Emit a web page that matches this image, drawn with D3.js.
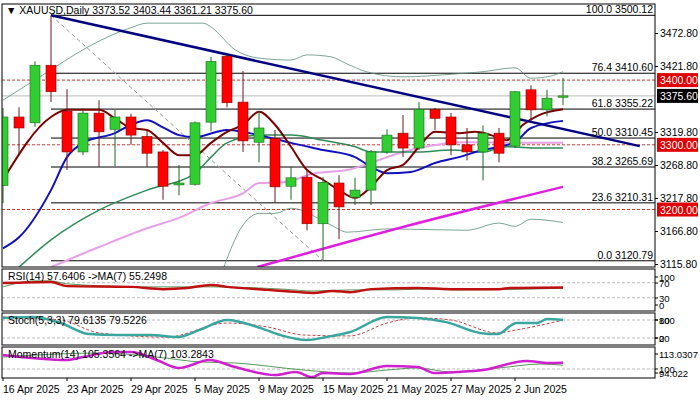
<!DOCTYPE html>
<html><head><meta charset="utf-8">
<script src="https://cdn.jsdelivr.net/npm/d3@7"></script>
<style>body{margin:0;background:#fff}text{font-family:"Liberation Sans",Arial,sans-serif;font-size:10.5px}</style>
</head><body><div id="chart"></div>
<script>
// OHLC per bar, bar index = position
const opens  = [3237,3343,3334,3423,3352,3289,3349,3324,3343,3313,3289,3238,3239,3335,3437,3366,3304,3310,3236,3250,3178,3241,3219,3230,3289,3318,3295,3355,3343,3300,3289,3318,3298,3385,3354,3373.52];
const highs  = [3357,3358,3429,3500.12,3386,3354,3369,3354,3348,3323,3292,3269,3336,3436,3439,3414,3352,3323,3266,3261,3250,3253,3249,3292,3324,3346,3366,3357,3349,3326,3330,3326,3383,3392,3385,3403.44];
const lows   = [3210,3284,3328,3366,3261,3284,3266,3267,3300,3266,3215,3222,3237,3321,3358,3289,3273,3210,3215,3168,3120.79,3154,3207,3207,3286,3281,3292,3323,3284,3276,3245,3273,3295,3335,3344,3361.21];
const closes = [3343,3326,3423,3382,3289,3349,3320,3343,3315,3287,3236,3241,3334,3429,3365,3306,3326,3235,3249,3178,3242,3204,3230,3289,3315,3295,3355,3341,3300,3289,3318,3287,3382,3354,3372,3375.60];

const dateTicks = [[0,'16 Apr 2025'],[4,'23 Apr 2025'],[8,'29 Apr 2025'],[12,'5 May 2025'],[16,'9 May 2025'],[20,'15 May 2025'],[24,'21 May 2025'],[28,'27 May 2025'],[32,'2 Jun 2025']];
const priceTicks = [3472.80,3421.80,3319.80,3268.80,3217.80,3166.80,3115.80];

// moving averages: [bar, price]
const maFast = [[0,3246],[3,3343],[4,3354],[6,3354],[7,3341],[8,3326],[9,3323],[10,3303],[11,3284],[12,3284],[13,3303],[14,3320],[15,3331],[16,3351],[17,3331],[18,3297],[19,3261],[20,3246],[21,3230],[22,3218],[23,3235],[24,3261],[25,3269],[26,3297],[27,3320],[28.5,3318],[29.5,3320],[30.5,3315],[31.5,3307],[32.5,3331],[33.5,3346],[35,3355]];
const maBlue = [[0,3140],[1,3157],[3,3230],[4,3281],[5,3303],[7,3318],[8,3331],[9,3338],[10,3327],[11,3315],[12,3312],[14,3323],[15,3320],[16,3315],[18,3303],[20,3292],[22,3281],[23,3266],[24,3256],[25.5,3258],[27,3272],[28.5,3281],[30,3292],[31,3297],[32,3304],[33,3326],[35,3337]];
const maGreen = [[1,3111],[3,3153],[6,3199],[9,3230],[12,3256],[13,3281],[14,3303],[16,3315],[18,3315],[20,3307],[22,3297],[23,3289],[26,3289],[28,3292],[30,3289],[31.5,3297],[33.5,3295],[35,3295]];
const maPink = [[3,3111],[6,3142],[9,3171],[11,3187],[13,3210],[15,3225],[16,3241],[17.5,3242],[19.5,3256],[21.5,3261],[23,3272],[24,3281],[26,3295],[29,3304],[32,3303],[35,3303]];
const maSlow = [[15.9,3111],[25,3173],[35,3235]];
const bandUp = [[0,3369],[3,3416],[5,3447],[8,3481],[9,3488],[12.5,3488],[13,3482],[14.5,3447],[16,3434],[18,3431],[19,3439],[20.5,3436],[21.5,3425],[22.7,3413],[25,3405],[28,3409],[30,3413],[32,3419],[33,3403],[34.2,3406],[35,3413]];
const bandLow = [[13.5,3090],[15,3176],[16,3194],[17,3194],[18,3202],[20.5,3176],[21.5,3165],[24,3170],[29,3168],[31,3179],[32,3174],[33,3185],[35,3180]];
const trend = [[3,3500.12],[39.8,3298]];
const fibDiag = [[3,3500.12],[20,3120.79]];
const fibLevels = [[100.0,3500.12],[76.4,3410.60],[61.8,3355.22],[50.0,3310.45],[38.2,3265.69],[23.6,3210.31],[0.0,3120.79]];
const redLevels = [3400,3300,3200];
const lastPrice = 3375.60;

const rsi = [[0,69],[3,72],[4,61],[8,59],[10,53],[11.5,56],[13,64],[14,59],[16.5,51],[18.5,45],[19.4,43],[20.6,48],[21.7,45],[23,53],[25.9,56],[28,53],[31,53],[31.7,56],[35,57.64]];
const rsiMa = [[0,59],[2,75],[3,75],[4,67],[9,59],[11.5,59],[13,59],[17.5,53],[19.4,48],[21.7,51],[24.5,51],[26,53],[28.5,51],[35,55.25]];
const stoch = [[0,87],[1.9,90],[3.6,70],[5.4,33],[7.1,30],[9.2,30],[10.9,23],[12.3,47],[14,80],[16.1,53],[17.5,27],[19,13],[20.2,23],[21.7,40],[24,90],[25.9,87],[27.7,73],[29.8,37],[30.9,33],[32.1,70],[33.4,70],[34,83],[35,79.61]];
const stochSig = [[0,90],[3.6,80],[6,37],[10.2,23],[14,70],[16.5,57],[18.8,30],[21.7,27],[24,70],[25.9,87],[28,80],[30.9,37],[32.1,47],[35,79.52]];
const mom = [[0,112.2],[4,107.8],[5,110.4],[6.9,114.8],[8,114.8],[9.6,107.8],[11,100.9],[12.9,107.8],[14.5,101.7],[17,94.8],[18.3,97.4],[19.3,93.0],[20,96.5],[21.7,95.7],[24,102.6],[25.9,101.7],[27,96.5],[28.5,97.4],[30,99.1],[32.7,107.0],[34.1,105.2],[35,105.36]];
const momMa = [[0,110.4],[6,113.9],[9.6,110.4],[12.3,106.1],[14.5,105.2],[18.8,99.1],[21.7,96.5],[24,99.1],[25.9,100.9],[28,97.4],[31,100.9],[33.6,104.3],[35,103.28]];

const W = 700, H = 400, L = 2, R = 655;
const svg = d3.select('#chart').append('svg').attr('width', W).attr('height', H);
const x = d3.scaleLinear().domain([0, 35]).range([3, 563]);
const y = d3.scaleLinear().domain([3115.8, 3472.8]).range([264, 33]);

const panels = [[4, 267], [269, 311], [313, 345], [347, 378]];
panels.forEach((p, i) => {
  svg.append('clipPath').attr('id', 'c' + i).append('rect')
    .attr('x', L).attr('y', p[0]).attr('width', R - L).attr('height', p[1] - p[0]);
});
const main = svg.append('g').attr('clip-path', 'url(#c0)');

// horizontal levels
redLevels.forEach(v => main.append('line').attr('x1', L).attr('x2', R).attr('y1', y(v)).attr('y2', y(v))
  .attr('stroke', '#c00').attr('stroke-dasharray', '3,2').attr('stroke-width', 0.8));
main.append('line').attr('x1', L).attr('x2', R).attr('y1', y(lastPrice)).attr('y2', y(lastPrice)).attr('stroke', '#bbb');
fibLevels.forEach(f => {
  main.append('line').attr('x1', x(3)).attr('x2', R).attr('y1', y(f[1])).attr('y2', y(f[1])).attr('stroke', '#000');
  svg.append('text').attr('x', 653).attr('y', y(f[1]) - 2).attr('text-anchor', 'end').text(f[0].toFixed(1) + ' ' + f[1].toFixed(2));
});

const line = (sx, sy) => d3.line().x(d => sx(d[0])).y(d => sy(d[1]));
main.append('path').datum(fibDiag).attr('d', line(x, y)).attr('fill', 'none').attr('stroke', '#999').attr('stroke-dasharray', '4,3');
[[bandUp, '#5a8f7a', 0.8], [bandLow, '#5a8f7a', 0.8], [maSlow, '#e020e0', 2.5], [maPink, '#e8a0e8', 2], [maGreen, '#2e8b57', 1.5], [maBlue, '#1010c0', 2], [maFast, '#7a0000', 2]]
  .forEach(s => main.append('path').datum(s[0]).attr('d', line(x, y).curve(d3.curveMonotoneX)).attr('fill', 'none').attr('stroke', s[1]).attr('stroke-width', s[2]));
main.append('path').datum(trend).attr('d', line(x, y)).attr('stroke', '#000080').attr('stroke-width', 2.5);

// candles
const bars = d3.range(opens.length);
main.selectAll('.wick').data(bars).enter().append('line')
  .attr('x1', i => x(i)).attr('x2', i => x(i)).attr('y1', i => y(highs[i])).attr('y2', i => y(lows[i]))
  .attr('stroke', i => closes[i] >= opens[i] ? '#1a6a1a' : '#6a1a1a');
main.selectAll('.body').data(bars).enter().append('rect')
  .attr('x', i => x(i) - 5).attr('width', 10)
  .attr('y', i => y(Math.max(opens[i], closes[i])))
  .attr('height', i => Math.max(1, Math.abs(y(opens[i]) - y(closes[i]))))
  .attr('fill', i => closes[i] >= opens[i] ? '#32cd32' : '#ff0000')
  .attr('stroke', i => closes[i] >= opens[i] ? '#1a6a1a' : '#8b0000').attr('stroke-width', 0.6);

// right axis
const ax = svg.append('g').attr('transform', `translate(${R},0)`)
  .call(d3.axisRight(y).tickValues(priceTicks).tickSize(3).tickFormat(d3.format('.2f')));
ax.select('.domain').remove();
ax.selectAll('text').attr('x', 5).style('font-size', '10.5px').style('font-family', 'Liberation Sans');
redLevels.concat([lastPrice]).forEach(v => {
  const g = svg.append('g').attr('transform', `translate(${R + 2},${y(v)})`);
  g.append('rect').attr('x', 0).attr('y', -7).attr('width', 41).attr('height', 14).attr('fill', v === lastPrice ? '#000' : '#e00000');
  g.append('text').attr('x', 3).attr('y', 4).attr('fill', '#fff').text(v.toFixed(2));
});

// indicator panels
function panel(idx, dom, rng, series, levels, labels, title) {
  const py = d3.scaleLinear().domain(dom).range(rng);
  const g = svg.append('g').attr('clip-path', `url(#c${idx})`);
  levels.forEach(v => g.append('line').attr('x1', L).attr('x2', R).attr('y1', py(v)).attr('y2', py(v))
    .attr('stroke', '#bbb').attr('stroke-dasharray', '3,2'));
  series.forEach(s => g.append('path').datum(s[0]).attr('d', line(x, py).curve(d3.curveMonotoneX))
    .attr('fill', 'none').attr('stroke', s[1]).attr('stroke-width', s[2]).attr('stroke-dasharray', s[3] || null));
  labels.forEach(l => {
    svg.append('line').attr('x1', R).attr('x2', R + 3).attr('y1', l[1]).attr('y2', l[1]).attr('stroke', '#000');
    svg.append('text').attr('x', R + 4).attr('y', l[1] + 4).style('font-size', '9.5px').text(l[0]);
  });
  svg.append('text').attr('x', 8).attr('y', panels[idx][0] + 11).text(title);
}
panel(1, [0, 100], [309, 271.5], [[rsiMa, '#2e7d2e', 0.8], [rsi, '#c01010', 2.5]], [70, 30],
  [['100', 277], ['70', 283], ['30', 298], ['0', 305]], 'RSI(14) 57.6406  ->MA(7) 55.2498');
panel(2, [0, 100], [344, 314], [[stochSig, '#c01010', 0.8, '3,2'], [stoch, '#3aa6a0', 2.5]], [80, 20],
  [['100', 320], ['80', 320], ['20', 338], ['0', 338]], 'Stoch(5,3,3) 79.6135 79.5226');
panel(3, [100, 113.0307], [369, 354], [[momMa, '#2e7d2e', 0.8], [mom, '#d020d0', 2.5]], [100],
  [['113.0307', 354], ['100', 369], ['94.022', 373]], 'Momentum(14) 105.3564  ->MA(7) 103.2843');

panels.forEach(p => svg.append('rect').attr('x', L).attr('y', p[0]).attr('width', R - L).attr('height', p[1] - p[0])
  .attr('fill', 'none').attr('stroke', '#000'));

// dates
dateTicks.forEach(d => {
  svg.append('line').attr('x1', x(d[0])).attr('x2', x(d[0])).attr('y1', 378).attr('y2', 381).attr('stroke', '#000');
  svg.append('text').attr('x', x(d[0])).attr('y', 393).text(d[1]);
});
svg.append('text').attr('x', 6).attr('y', 14).text('\u25BC XAUUSD,Daily  3373.52 3403.44 3361.21 3375.60');
</script></body></html>
